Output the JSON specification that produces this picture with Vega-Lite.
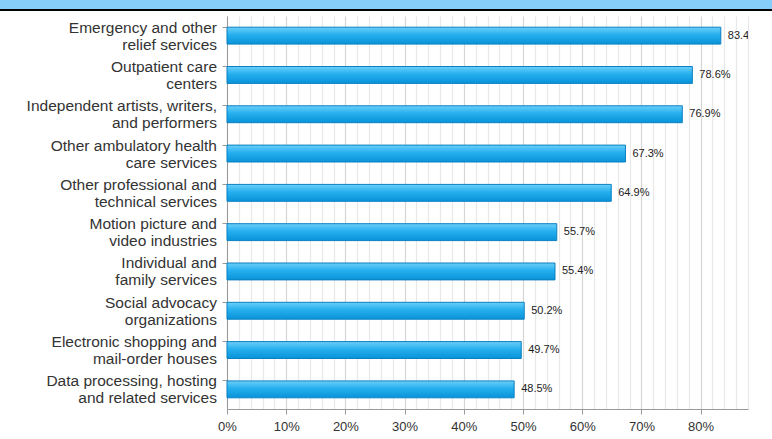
{
  "$schema": "https://vega.github.io/schema/vega-lite/v6.json",
  "padding": 0,
  "background": "white",
  "spacing": 5,
  "config": {"view": {"stroke": null}, "font": "Liberation Sans"},
  "datasets": {
    "industries": [
      {"industry": "Emergency and other\nrelief services", "share": 0.834},
      {"industry": "Outpatient care\ncenters", "share": 0.786},
      {"industry": "Independent artists, writers,\nand performers", "share": 0.769},
      {"industry": "Other ambulatory health\ncare services", "share": 0.673},
      {"industry": "Other professional and\ntechnical services", "share": 0.649},
      {"industry": "Motion picture and\nvideo industries", "share": 0.557},
      {"industry": "Individual and\nfamily services", "share": 0.554},
      {"industry": "Social advocacy\norganizations", "share": 0.502},
      {"industry": "Electronic shopping and\nmail-order houses", "share": 0.497},
      {"industry": "Data processing, hosting\nand related services", "share": 0.485}
    ]
  },
  "vconcat": [
    {
      "spacing": 0,
      "vconcat": [
        {"width": 772, "height": 9, "data": {"values": [{"part": "title band"}]}, "mark": {"type": "rect", "fill": "#87CDF9", "strokeWidth": 0}, "encoding": {}},
        {"width": 772, "height": 2, "data": {"values": [{"part": "rule"}]}, "mark": {"type": "rect", "fill": "#000000", "strokeWidth": 0}, "encoding": {}}
      ]
    },
    {
      "spacing": 0,
      "hconcat": [
        {
          "width": 217,
          "height": 393,
          "data": {"name": "industries"},
          "mark": {"type": "text", "align": "right", "baseline": "middle", "lineBreak": "\n", "fontSize": 15.5, "lineHeight": 17, "color": "#333333", "dy": -8},
          "encoding": {
            "y": {"field": "industry", "type": "nominal", "sort": null, "scale": {"paddingInner": 0.57, "paddingOuter": 0.285}, "axis": null},
            "x": {"datum": 1, "type": "quantitative", "scale": {"domain": [0, 1]}, "axis": null},
            "text": {"field": "industry", "type": "nominal"}
          }
        },
        {
          "width": 521,
          "height": 393,
          "data": {"name": "industries"},
          "encoding": {
            "y": {
              "field": "industry",
              "type": "nominal",
              "sort": null,
              "scale": {"paddingInner": 0.57, "paddingOuter": 0.285},
              "axis": {
                "title": null,
                "grid": false,
                "labels": false,
                "domainColor": "#999999",
                "tickColor": "#999999",
                "tickSize": 5,
                "bandPosition": 0,
                "minExtent": 0
              }
            },
            "x": {
              "field": "share",
              "type": "quantitative",
              "scale": {"domain": [0, 0.88], "nice": false, "zero": true},
              "axis": {
                "title": null,
                "values": [0, 0.02, 0.04, 0.06, 0.08, 0.1, 0.12, 0.14, 0.16, 0.18, 0.2, 0.22, 0.24, 0.26, 0.28, 0.3, 0.32, 0.34, 0.36, 0.38, 0.4, 0.42, 0.44, 0.46, 0.48, 0.5, 0.52, 0.54, 0.56, 0.58, 0.6, 0.62, 0.64, 0.66, 0.68, 0.7, 0.72, 0.74, 0.76, 0.78, 0.8, 0.82, 0.84, 0.86, 0.88],
                "format": ".0%",
                "labelExpr": "round(datum.value * 100) % 10 === 0 ? datum.label : ''",
                "labelOverlap": false,
                "labelFlush": false,
                "labelFontSize": 13,
                "labelColor": "#333333",
                "labelPadding": 6,
                "grid": true,
                "gridColor": {"condition": {"test": "round(datum.value * 100) % 10 === 0", "value": "#d6d6d6"}, "value": "#e8e8e8"},
                "gridWidth": 1.2,
                "domainColor": "#999999",
                "tickColor": "#999999",
                "tickSize": 5,
                "tickOpacity": {"condition": {"test": "round(datum.value * 100) % 10 === 0", "value": 1}, "value": 0}
              }
            }
          },
          "layer": [
            {
              "mark": {
                "type": "bar",
                "fill": {"gradient": "linear", "x1": 0, "y1": 0, "x2": 0, "y2": 1, "stops": [{"offset": 0, "color": "#6ccff9"}, {"offset": 0.45, "color": "#25afee"}, {"offset": 1, "color": "#0993d9"}]},
                "stroke": "#0b80c2",
                "strokeWidth": 1
              }
            },
            {
              "mark": {"type": "text", "align": "left", "baseline": "middle", "dx": 7, "fontSize": 11, "color": "#222222", "clip": true},
              "encoding": {"text": {"field": "share", "type": "quantitative", "format": ".1%"}}
            }
          ]
        }
      ]
    }
  ]
}
